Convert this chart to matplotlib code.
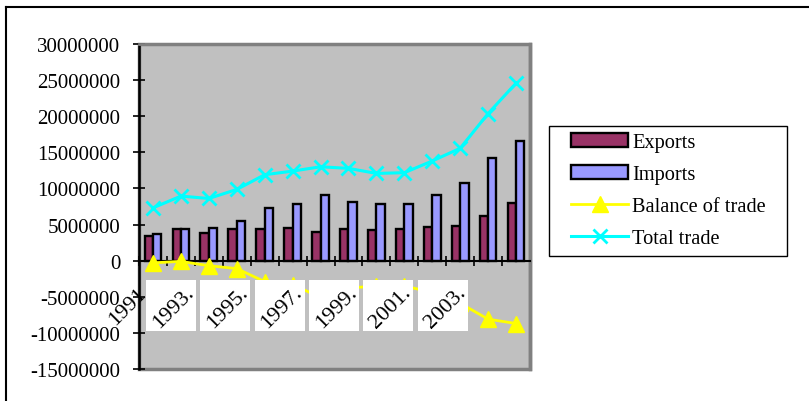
import numpy as np
import matplotlib.pyplot as plt
from matplotlib.patches import Rectangle
from matplotlib.lines import Line2D

years = [str(y) for y in range(1991, 2005)]
exports = [3.47e6, 4.40e6, 3.89e6, 4.40e6, 4.44e6, 4.54e6, 3.98e6,
           4.44e6, 4.26e6, 4.40e6, 4.68e6, 4.81e6, 6.16e6, 7.96e6]
imports = [3.75e6, 4.40e6, 4.54e6, 5.46e6, 7.31e6, 7.78e6, 9.12e6,
           8.19e6, 7.78e6, 7.87e6, 9.12e6, 10.69e6, 14.21e6, 16.57e6]
balance = [-0.3e6, -0.1e6, -0.7e6, -1.1e6, -2.9e6, -3.3e6, -5.1e6,
           -3.8e6, -3.5e6, -3.5e6, -4.4e6, -5.9e6, -8.1e6, -8.7e6]
total = [7.31e6, 8.94e6, 8.61e6, 9.86e6, 11.9e6, 12.4e6, 13.0e6,
         12.78e6, 12.08e6, 12.18e6, 13.8e6, 15.56e6, 20.37e6, 24.58e6]
box_labels = ["1993.", "1995.", "1997.", "1999.", "2001.", "2003."]

plt.rcParams['font.family'] = ['Liberation Serif', 'DejaVu Serif']

fig = plt.figure(figsize=(8.09, 4.02), dpi=100)
ax = fig.add_axes([139/809, 1 - 370/402, 391/809, 325/402])
ax.set_facecolor('#C0C0C0')

x = np.arange(len(years))
w = 0.3
b1 = ax.bar(x - w/2, exports, w, color='#993366', edgecolor='black', lw=1.7,
            label='Exports', zorder=2)
b2 = ax.bar(x + w/2, imports, w, color='#9999FF', edgecolor='black', lw=1.7,
            label='Imports', zorder=2)
l1, = ax.plot(x, balance, color='#FFFF00', lw=2, marker='^', ms=11,
              label='Balance of trade', zorder=3)
l2, = ax.plot(x, total, color='#00FFFF', lw=2.2, marker='x', ms=10, mew=2,
              label='Total trade', zorder=3)

ax.set_xlim(-0.5, len(years) - 0.5)
ax.set_ylim(-15000000, 30000000)
ax.set_yticks(np.arange(-15000000, 30000001, 5000000))
ax.set_yticklabels([str(v) for v in range(-15000000, 30000001, 5000000)])
ax.tick_params(axis='y', direction='inout', length=9, width=1.2,
               pad=9, labelsize=15)
ax.set_xticks(np.arange(-0.5, len(years)))
ax.set_xticklabels([])
ax.tick_params(axis='x', direction='inout', length=7, width=1.2)

ax.spines['bottom'].set_position(('data', 0))
ax.spines['bottom'].set_linewidth(1.5)
ax.spines['left'].set_linewidth(1.8)
ax.spines['top'].set_color('#808080')
ax.spines['right'].set_color('#808080')
ax.spines['top'].set_linewidth(2)
ax.spines['right'].set_linewidth(2.5)
ax.add_patch(Rectangle((0, 0), 1, 1, transform=ax.transAxes, fill=False,
                       ec='#808080', lw=2.5, clip_on=False, zorder=1))

# category labels in white boxes, as drawn by the spreadsheet
ax.text(-0.03, 0.195, years[0], transform=ax.transAxes, rotation=45,
        ha='center', va='center', fontsize=16, zorder=4)
for k, lab in enumerate(box_labels):
    x0 = 0.018 + 0.139 * k
    ax.add_patch(Rectangle((x0, 0.117), 0.128, 0.157, transform=ax.transAxes,
                           fc='white', ec='none', clip_on=False, zorder=5))
    ax.text(x0 + 0.07, 0.19, lab, transform=ax.transAxes, rotation=45,
            ha='center', va='center', fontsize=16, zorder=6)

# legend with its own frame
fig.add_artist(Rectangle((549/809, 1 - 257/402), 238/809, 130/402,
                         transform=fig.transFigure, fill=False, ec='black', lw=1))
leg = fig.legend([b1, b2, l1, l2],
                 ['Exports', 'Imports', 'Balance of trade', 'Total trade'],
                 loc='upper left', bbox_to_anchor=(565/809, 1 - 128/402),
                 borderaxespad=0, fontsize=14.7, frameon=False,
                 handlelength=2.8, handletextpad=0.2, labelspacing=0.62,
                 borderpad=0.3)

fig.add_artist(Line2D([6/809, 6/809], [0, 1 - 8/402], color='black', lw=1.5))
fig.add_artist(Line2D([6/809, 1], [1 - 8/402, 1 - 8/402], color='black', lw=1.5))

fig.savefig('out.png', dpi=100)
